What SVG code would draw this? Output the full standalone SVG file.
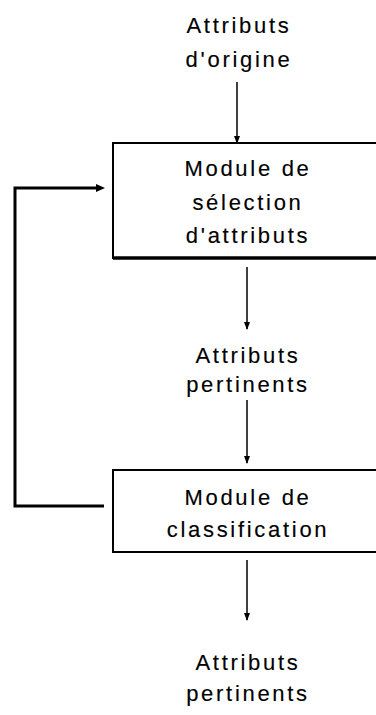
<svg xmlns="http://www.w3.org/2000/svg" width="376" height="715" viewBox="0 0 376 715">
<style>
.t{font-family:"Liberation Sans",Arial,sans-serif;font-size:22px;letter-spacing:2.7px;text-anchor:middle;fill:#000;stroke:#000;stroke-width:0.15}
.box{fill:#fff;stroke:#000;stroke-width:2}
.ar{stroke:#000;stroke-width:1.5;fill:none;marker-end:url(#ah)}
.fb{stroke:#000;stroke-width:3;fill:none}
</style>
<defs>
<marker id="ah" markerWidth="8" markerHeight="8" refX="7" refY="4" orient="auto" markerUnits="userSpaceOnUse">
<path d="M0,1 L8,4 L0,7 Z" fill="#000"/>
</marker>
</defs>
<g id="input">
<text class="t" x="239" y="33">Attributs</text>
<text class="t" x="239" y="67">d'origine</text>
</g>
<g id="selection">
<rect class="box" x="113" y="143" width="290" height="115"/>
<line x1="113" y1="258" x2="376" y2="258" stroke="#000" stroke-width="3.5"/>
<text class="t" x="248" y="176">Module de</text>
<text class="t" x="248" y="210">sélection</text>
<text class="t" x="248" y="243">d'attributs</text>
</g>
<g id="pertinents1">
<text class="t" x="248" y="363">Attributs</text>
<text class="t" x="248" y="392">pertinents</text>
</g>
<g id="classification">
<rect class="box" x="113" y="470" width="290" height="82"/>
<text class="t" x="248" y="505">Module de</text>
<text class="t" x="248" y="537">classification</text>
</g>
<g id="pertinents2">
<text class="t" x="248" y="670">Attributs</text>
<text class="t" x="248" y="701">pertinents</text>
</g>
<g id="connectors">
<line class="ar" x1="237" y1="82" x2="237" y2="143"/>
<line class="ar" x1="247" y1="267" x2="247" y2="329"/>
<line class="ar" x1="247" y1="400" x2="247" y2="463"/>
<line class="ar" x1="247" y1="560" x2="247" y2="620"/>
<path class="fb" d="M104,506 H15 V188 H98"/>
<path d="M96,184 L105,188 L96,192 Z" fill="#000"/>
</g>
</svg>
